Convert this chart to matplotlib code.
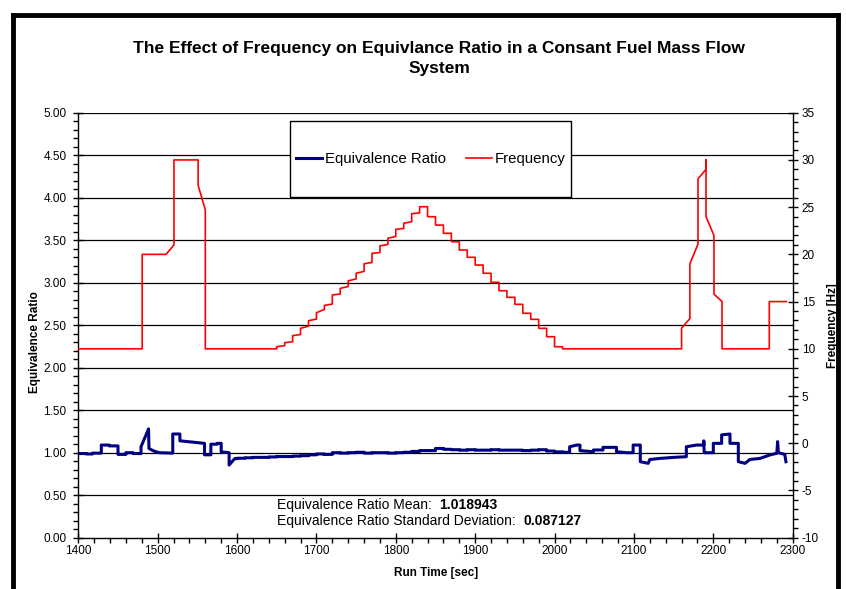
import matplotlib
matplotlib.use('Agg')
import matplotlib.pyplot as plt
from matplotlib.ticker import MultipleLocator, FormatStrFormatter
from matplotlib.lines import Line2D
from matplotlib.patches import Rectangle

plt.rcParams['font.family'] = ['Liberation Sans', 'DejaVu Sans']
plt.rcParams['axes.unicode_minus'] = False

# ---------------- data ----------------
# Frequency [Hz] -- irregular segments as vertices
freq_start_t = [1400, 1480.5, 1480.5, 1510.5, 1520.5, 1520.5, 1551, 1551, 1560, 1560, 1650]
freq_start_f = [10, 10, 20, 20, 21, 30, 30, 27.3, 24.7, 10, 10]
# rising staircase: jump times, level after jump, level at end of step
ramp_up_t = [1650, 1660, 1670, 1680, 1690, 1700, 1710, 1720, 1730, 1740,
             1750, 1760, 1770, 1780, 1790, 1800, 1810, 1820, 1830]
ramp_up_f0 = [10.22, 10.65, 11.39, 12.17, 12.98, 13.82, 14.6, 15.7, 16.4, 17.2,
              18.0, 19.0, 20.1, 20.9, 21.7, 22.65, 23.3, 24.3, 25.05]
ramp_up_f1 = [10.33, 10.75, 11.52, 12.4, 13.15, 14.17, 14.74, 15.8, 16.6, 17.4,
              18.2, 19.15, 20.2, 21.05, 21.9, 22.75, 23.45, 24.4, 25.05]
# falling staircase
ramp_dn_t = [1840, 1850, 1860, 1870, 1880, 1890, 1900, 1910, 1920,
             1930, 1940, 1950, 1960, 1970, 1980, 1990, 2000, 2010]
ramp_dn_f = [23.99, 23.1, 22.23, 21.34, 20.46, 19.69, 18.87, 18.0, 17.04,
             16.15, 15.45, 14.71, 13.76, 13.12, 12.17, 11.28, 10.22, 10.0]
freq_end_t = [2160, 2160, 2170.5, 2170.5, 2180.7, 2180.7, 2190.8, 2190.8, 2190.8,
              2200.8, 2200.8, 2211, 2211, 2270.5, 2270.5, 2292]
freq_end_f = [10, 12.2, 13.2, 19.0, 21.1, 28.0, 29.0, 30.0, 24.0,
              22.0, 15.8, 15.0, 10, 10, 15, 15]

# Equivalence ratio -- irregular segments as vertices
phi_start_t = [1400, 1410, 1410, 1418, 1418, 1429, 1429, 1439, 1439, 1450, 1450, 1460,
               1460, 1469, 1469, 1479, 1479, 1488.5, 1489, 1495, 1502, 1519, 1519, 1528,
               1528, 1538, 1548, 1559, 1559, 1567, 1567, 1575, 1575, 1580, 1580, 1590,
               1590, 1597]
phi_start_v = [0.99, 0.99, 0.985, 0.985, 0.995, 0.995, 1.09, 1.09, 1.08, 1.08, 0.98, 0.98,
               1.0, 1.0, 0.99, 0.99, 1.07, 1.28, 1.05, 1.02, 1.0, 0.995, 1.22, 1.22,
               1.14, 1.13, 1.12, 1.11, 0.975, 0.975, 1.10, 1.10, 1.11, 1.11, 1.01, 1.0,
               0.855, 0.93]
# regular small steps
phi_step_t = [1600, 1610, 1620, 1630, 1640, 1650, 1660, 1670, 1680, 1690, 1700, 1710,
              1720, 1730, 1740, 1750, 1760, 1770, 1780, 1790, 1800, 1810, 1820, 1830,
              1840, 1850, 1860, 1870, 1880, 1890, 1900, 1910, 1920, 1930, 1940, 1950,
              1960, 1970, 1980, 1990, 2000, 2010, 2019]
phi_step_v = [0.935, 0.94, 0.945, 0.945, 0.95, 0.955, 0.955, 0.96, 0.965, 0.975, 0.985, 0.98,
              1.0, 0.995, 1.0, 1.005, 0.995, 1.0, 1.0, 0.995, 1.0, 1.005, 1.015, 1.025,
              1.025, 1.05, 1.04, 1.035, 1.03, 1.035, 1.03, 1.03, 1.035, 1.03, 1.03, 1.03,
              1.025, 1.03, 1.035, 1.02, 1.01, 1.005, 1.005]
phi_end_t = [2019, 2028, 2032, 2032, 2049, 2049, 2061, 2061, 2078, 2078, 2091, 2099,
             2099, 2108, 2108, 2118, 2120, 2133, 2150, 2166, 2166, 2179, 2188, 2188,
             2188.5, 2200, 2200, 2210.5, 2210.5, 2221, 2221, 2231.5, 2231.5, 2240, 2246,
             2259, 2271, 2280, 2281, 2282, 2290, 2291.5]
phi_end_v = [1.07, 1.09, 1.09, 1.024, 1.012, 1.032, 1.032, 1.063, 1.063, 1.012, 1.0, 1.0,
             1.09, 1.09, 0.894, 0.875, 0.92, 0.933, 0.945, 0.953, 1.07, 1.09, 1.09, 1.14,
             1.0, 1.0, 1.11, 1.11, 1.21, 1.22, 1.11, 1.11, 0.894, 0.875, 0.92,
             0.933, 0.973, 0.993, 1.13, 1.0, 0.98, 0.894]

phi_mean = "1.018943"
phi_std = "0.087127"

# ---------------- build line vertices ----------------
ft, ff = list(freq_start_t), list(freq_start_f)
prev = ff[-1]
for i, t in enumerate(ramp_up_t):
    ft += [t, t]
    ff += [prev, ramp_up_f0[i]]
    prev = ramp_up_f1[i]
    ft.append(ramp_up_t[i + 1] if i + 1 < len(ramp_up_t) else ramp_dn_t[0])
    ff.append(prev)
for i, t in enumerate(ramp_dn_t):
    ft += [t, t]
    ff += [prev, ramp_dn_f[i]]
    prev = ramp_dn_f[i]
ft += freq_end_t
ff += freq_end_f

pt, pv = list(phi_start_t), list(phi_start_v)
prev = pv[-1]
for t, v in zip(phi_step_t, phi_step_v):
    pt += [t, t]
    pv += [prev, v]
    prev = v
pt += phi_end_t
pv += phi_end_v

# ---------------- figure ----------------
W, H = 846, 589
fig = plt.figure(figsize=(W / 100, H / 100), dpi=100)
L, R, T, B = 78.3, 792.7, 112.7, 537.7
ax = fig.add_axes([L / W, 1 - B / H, (R - L) / W, (B - T) / H])
ax2 = ax.twinx()

ax.set_xlim(1400, 2300)
ax.set_ylim(0, 5)
ax2.set_ylim(-10, 35)

for y in [0.5 * k for k in range(1, 11)]:
    ax.axhline(y, color='black', lw=0.9, zorder=1)

ax.plot(pt, pv, color='#000080', lw=2.2, zorder=3, label='Equivalence Ratio')
ax2.plot(ft, ff, color='#FF0000', lw=1.2, zorder=3, label='Frequency')

for a in (ax, ax2):
    a.spines['top'].set_visible(False)
    for s in a.spines.values():
        s.set_color('black')
        s.set_linewidth(1.0)
ax.spines['right'].set_visible(False)
ax2.spines['left'].set_visible(False)
ax2.spines['bottom'].set_visible(False)

ax.xaxis.set_major_locator(MultipleLocator(100))
ax.xaxis.set_minor_locator(MultipleLocator(20))
ax.yaxis.set_major_locator(MultipleLocator(0.5))
ax.yaxis.set_minor_locator(MultipleLocator(0.1))
ax.yaxis.set_major_formatter(FormatStrFormatter('%.2f'))
ax2.yaxis.set_major_locator(MultipleLocator(5))
ax2.yaxis.set_minor_locator(MultipleLocator(1))

for a in (ax, ax2):
    a.tick_params(which='major', direction='inout', length=7, width=1,
                  labelsize=8.5, colors='black', pad=3)
    a.tick_params(which='minor', direction='out', length=3.5, width=1)
ax.tick_params(axis='x', which='major', pad=2)
ax.tick_params(axis='y', which='major', pad=5)

fs_lab = 8.5
fig.text(35 / W, 1 - 342 / H, 'Equivalence Ratio', rotation=90, ha='center', va='center',
         fontsize=fs_lab, fontweight='bold')
fig.text(833 / W, 1 - 326 / H, 'Frequency [Hz]', rotation=90, ha='center', va='center',
         fontsize=fs_lab, fontweight='bold')
fig.text(436 / W, 1 - 573 / H, 'Run Time [sec]', ha='center', va='center',
         fontsize=fs_lab, fontweight='bold')

fig.text(439 / W, 1 - 58.5 / H,
         'The Effect of Frequency on Equivlance Ratio in a Consant Fuel Mass Flow\nSystem',
         ha='center', va='center', fontsize=12.5, fontweight='bold', linespacing=1.4)

# legend box
fig.patches.append(Rectangle((290 / W, 1 - 197 / H), 281 / W, 76 / H,
                             transform=fig.transFigure, facecolor='white',
                             edgecolor='black', lw=1.0, zorder=5))
h1, l1 = ax.get_legend_handles_labels()
h2, l2 = ax2.get_legend_handles_labels()
leg = fig.legend(h1 + h2, l1 + l2, loc='center', bbox_to_anchor=(431 / W, 1 - 159 / H),
                 ncol=2, frameon=False, fontsize=10.8, handlelength=1.75,
                 handletextpad=0.2, columnspacing=1.3, borderpad=0, borderaxespad=0)
leg.set_zorder(6)

# statistics text
fig.canvas.draw()
renderer = fig.canvas.get_renderer()
fs_ann = 10
for yy, lab, val in [(505, 'Equivalence Ratio Mean:  ', phi_mean),
                     (521, 'Equivalence Ratio Standard Deviation:  ', phi_std)]:
    t1 = fig.text(277 / W, 1 - yy / H, lab, ha='left', va='center', fontsize=fs_ann)
    bb = t1.get_window_extent(renderer)
    fig.text(bb.x1 / W, 1 - yy / H, val, ha='left', va='center', fontsize=fs_ann,
             fontweight='bold')

# outer frame
for xs, ys in [([13, 13], [15, 589]), ([13, 838], [15, 15]), ([838, 838], [15, 589])]:
    fig.lines.append(Line2D([x / W for x in xs], [1 - y / H for y in ys],
                            transform=fig.transFigure, color='black', lw=3.5))

fig.savefig('out.png', dpi=100)
